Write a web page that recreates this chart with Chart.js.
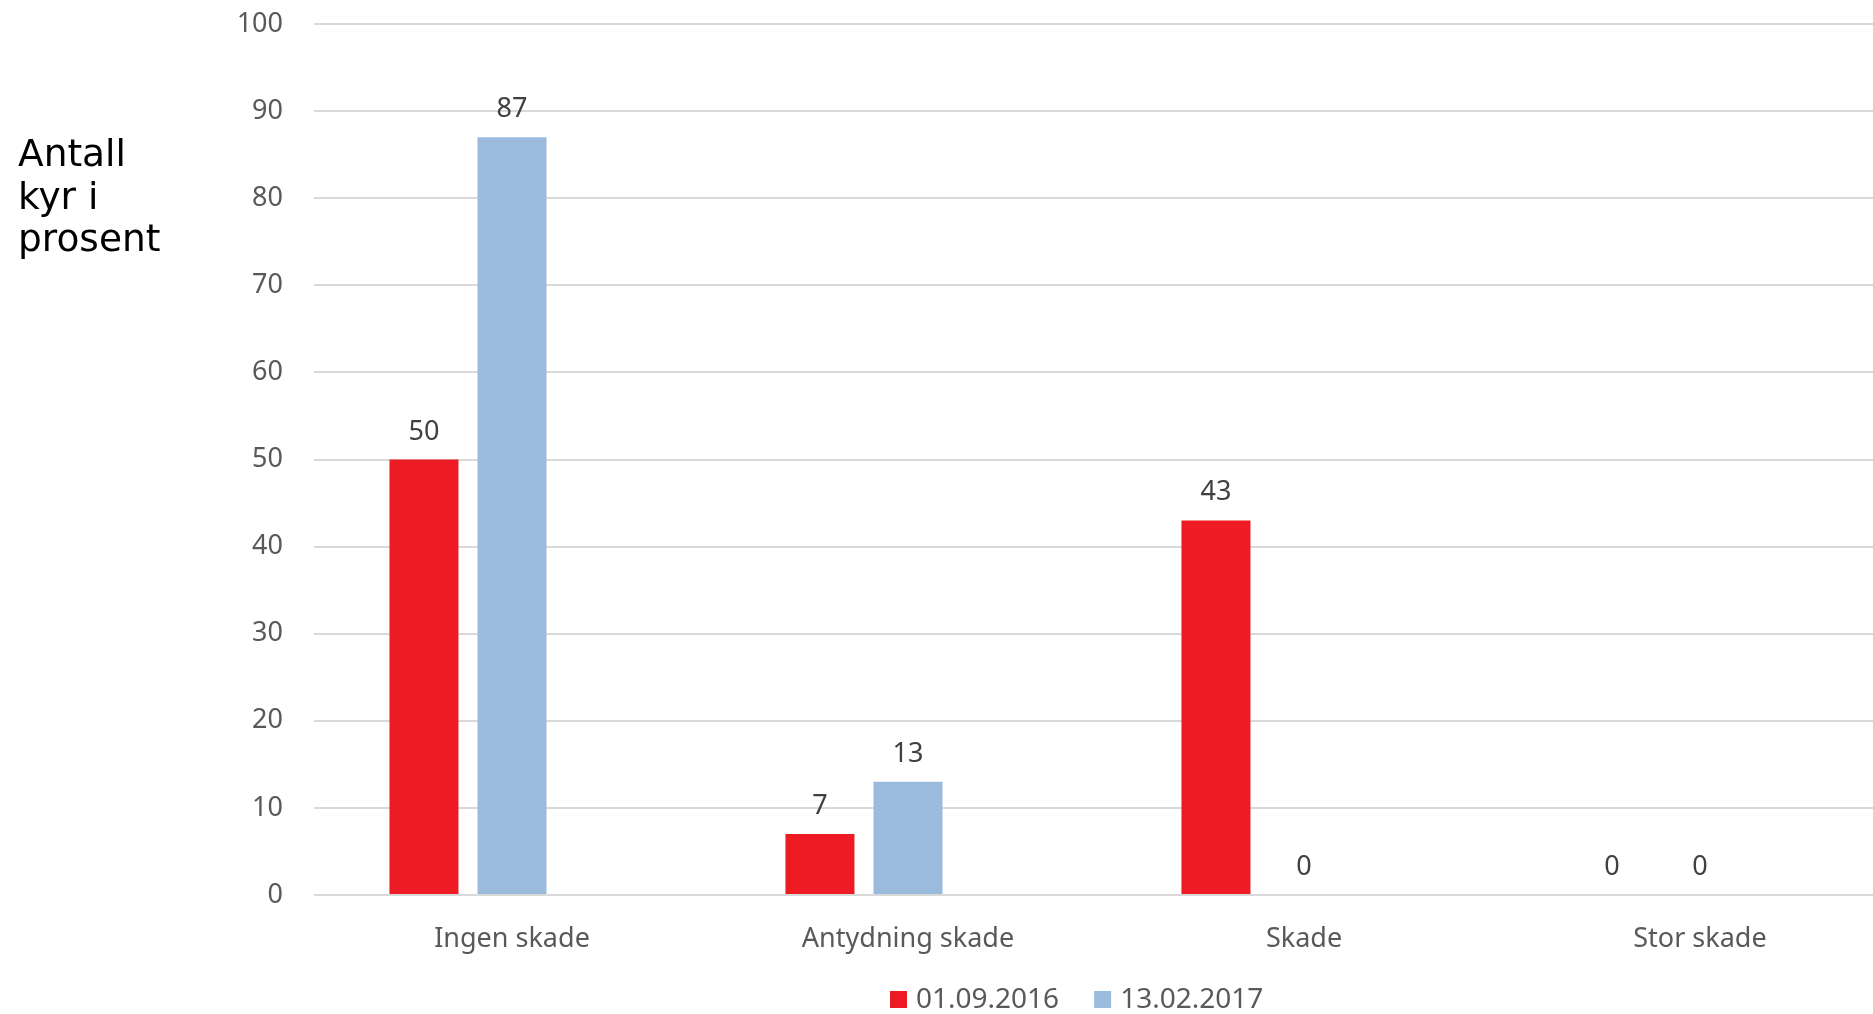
<!DOCTYPE html>
<html>
<head>
<meta charset="utf-8">
<script src="https://cdn.jsdelivr.net/npm/chart.js@4"></script>
<style>
  html, body { margin: 0; padding: 0; background: #fff; overflow: hidden; }
  #wrap { position: relative; width: 1898px; height: 1014px; }
</style>
</head>
<body>
<div id="wrap"><canvas id="c"></canvas></div>
<script>
// ---- data ----
const categories = ["Ingen skade", "Antydning skade", "Skade", "Stor skade"];
const seriesNames = ["01.09.2016", "13.02.2017"];
const values2016 = [50, 7, 43, 0];
const values2017 = [87, 13, 0, 0];
const spacer = [null, null, null, null]; // empty third series slot (as in source chart)
const yTicks = [0, 10, 20, 30, 40, 50, 60, 70, 80, 90, 100];
const yTitleLines = ["Antall", "kyr i", "prosent"];

const RED = "#ED1C24";
const BLUE = "#9BBBDD";
const FONT = "'Noto Sans', 'Open Sans', sans-serif";

const titlePlugin = {
  id: "sideTitle",
  afterDraw(chart) {
    const ctx = chart.ctx;
    ctx.save();
    ctx.font = "37.5px 'DejaVu Sans', Verdana, sans-serif";
    ctx.fillStyle = "#000";
    ctx.textAlign = "left";
    ctx.textBaseline = "alphabetic";
    yTitleLines.forEach((t, i) => ctx.fillText(t, 18, 166 + i * 42.5));
    ctx.restore();
  }
};

const valueLabels = {
  id: "valueLabels",
  afterDatasetsDraw(chart) {
    const ctx = chart.ctx;
    ctx.save();
    ctx.font = "27px " + FONT;
    ctx.fillStyle = "#404040";
    ctx.textAlign = "center";
    ctx.textBaseline = "alphabetic";
    chart.data.datasets.forEach((ds, di) => {
      if (!ds.label) return;
      const meta = chart.getDatasetMeta(di);
      meta.data.forEach((el, i) => {
        const v = ds.data[i];
        if (v === null || v === undefined) return;
        ctx.fillText(String(v), el.x, el.y - 20);
      });
    });
    ctx.restore();
  }
};

const bottomLegend = {
  id: "bottomLegend",
  afterDraw(chart) {
    const ctx = chart.ctx;
    ctx.save();
    ctx.font = "28px " + FONT;
    ctx.textBaseline = "alphabetic";
    ctx.textAlign = "left";
    let x = 890;
    const base = 1008;
    chart.data.datasets.forEach(ds => {
      if (!ds.label) return;
      ctx.fillStyle = ds.backgroundColor;
      ctx.fillRect(x, base - 17, 17, 17);
      ctx.fillStyle = "#595959";
      ctx.fillText(ds.label, x + 26, base);
      x += 26 + ctx.measureText(ds.label).width + 35;
    });
    ctx.restore();
  }
};

new Chart(document.getElementById("c"), {
  type: "bar",
  data: {
    labels: categories,
    datasets: [
      { label: seriesNames[0], data: values2016, backgroundColor: RED },
      { label: seriesNames[1], data: values2017, backgroundColor: BLUE },
      { label: "", data: spacer, backgroundColor: "rgba(0,0,0,0)" }
    ]
  },
  options: {
    responsive: true,
    maintainAspectRatio: false,
    animation: false,
    devicePixelRatio: 1,
    categoryPercentage: 0.667,
    barPercentage: 0.784,
    layout: { padding: { top: 24, left: 0, right: 0, bottom: 0 } },
    plugins: { legend: { display: false }, tooltip: { enabled: false } },
    scales: {
      x: {
        grid: { display: false, drawTicks: false },
        border: { display: false },
        ticks: { font: { family: FONT, size: 27 }, color: "#595959", padding: 28, maxRotation: 0 },
        afterFit(s) { s.height = 119; s.paddingLeft = 0; s.paddingRight = 0; }
      },
      y: {
        min: 0, max: 100,
        afterBuildTicks(s) { s.ticks = yTicks.map(v => ({ value: v })); },
        grid: { color: "#D9D9D9", lineWidth: 2, drawTicks: false },
        border: { display: false },
        ticks: { font: { family: FONT, size: 27 }, color: "#595959", padding: 31 },
        afterFit(s) { s.width = 314; s.paddingTop = 0; s.paddingBottom = 0; }
      }
    }
  },
  plugins: [titlePlugin, valueLabels, bottomLegend]
});
</script>
</body>
</html>
